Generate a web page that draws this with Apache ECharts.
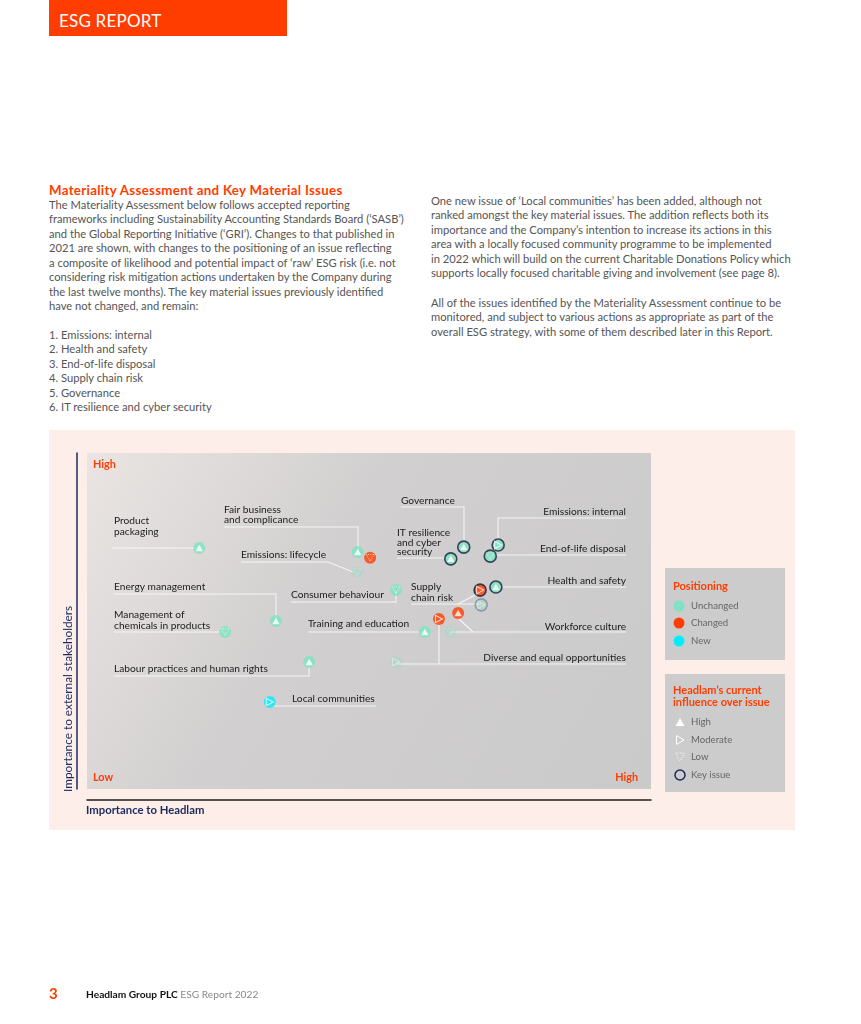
<!DOCTYPE html>
<html>
<head>
<meta charset="utf-8">
<script src="https://cdn.jsdelivr.net/npm/echarts@6/dist/echarts.min.js"></script>
<style>
  html, body { margin: 0; padding: 0; background: #fff; }
  #page { position: relative; width: 861px; height: 1024px; overflow: hidden; font-family: Lato, "Noto Sans", sans-serif; background: #fff; }
  .abs { position: absolute; white-space: nowrap; }
  #hdr { left: 49px; top: 0; width: 238px; height: 36px; background: #FF3D00; }
  #hdrText { left: 59px; top: 10px; font-size: 17px; line-height: 22px; color: #fff; letter-spacing: 0.2px; }
  #title { left: 49px; top: 182px; font-size: 13.3px; line-height: 16px; font-weight: bold; color: #FF3D00; letter-spacing: 0.3px; }
  #leftText { left: 49px; top: 197.8px; font-size: 11.2px; line-height: 14.45px; color: #555; }
  #rightText { left: 431px; top: 193.7px; font-size: 11.2px; line-height: 14.55px; color: #555; }
  #panel { left: 49px; top: 430px; width: 746px; height: 400px; background: #FDEEEA; }
  #chart { left: 0; top: 0; width: 861px; height: 1024px; }
  #foot3 { left: 49px; top: 983px; font-size: 15px; line-height: 20px; font-weight: bold; color: #FF3D00; }
  #footText { left: 86px; top: 986.5px; font-size: 10.2px; line-height: 14px; color: #111; }
  #footText span { color: #8a8a8a; font-weight: normal; }
</style>
</head>
<body>
<div id="page">
  <div id="hdr" class="abs"></div>
  <div id="hdrText" class="abs">ESG REPORT</div>
  <div id="title" class="abs">Materiality Assessment and Key Material Issues</div>
  <div id="leftText" class="abs">The Materiality Assessment below follows accepted reporting<br>frameworks including Sustainability Accounting Standards Board (‘SASB’)<br>and the Global Reporting Initiative (‘GRI’). Changes to that published in<br>2021 are shown, with changes to the positioning of an issue reflecting<br>a composite of likelihood and potential impact of ‘raw’ ESG risk (i.e. not<br>considering risk mitigation actions undertaken by the Company during<br>the last twelve months). The key material issues previously identified<br>have not changed, and remain:<br><br>1. Emissions: internal<br>2. Health and safety<br>3. End-of-life disposal<br>4. Supply chain risk<br>5. Governance<br>6. IT resilience and cyber security</div>
  <div id="rightText" class="abs">One new issue of ‘Local communities’ has been added, although not<br>ranked amongst the key material issues. The addition reflects both its<br>importance and the Company’s intention to increase its actions in this<br>area with a locally focused community programme to be implemented<br>in 2022 which will build on the current Charitable Donations Policy which<br>supports locally focused charitable giving and involvement (see page 8).<br><br>All of the issues identified by the Materiality Assessment continue to be<br>monitored, and subject to various actions as appropriate as part of the<br>overall ESG strategy, with some of them described later in this Report.</div>
  <div id="panel" class="abs"></div>
  <div id="chart" class="abs"></div>
  <div id="foot3" class="abs">3</div>
  <div id="footText" class="abs"><b>Headlam Group PLC</b> <span>ESG Report 2022</span></div>
</div>
<script>
// ---------- DATA ----------
const issues = ["Product packaging", "Fair business and complicance", "Emissions: lifecycle", "Energy management",
  "Management of chemicals in products", "Labour practices and human rights", "Local communities", "Consumer behaviour",
  "Training and education", "Diverse and equal opportunities", "Workforce culture", "Supply chain risk",
  "Health and safety", "IT resilience and cyber security", "Governance", "Emissions: internal", "End-of-life disposal"];
// Importance to Headlam (x, 0-100)
const importanceToHeadlam = [19.9, 48.0, 50.2, 33.5, 24.5, 39.4, 32.4, 54.8, 59.9, 62.4, 65.8, 69.7, 72.5, 64.5, 66.8, 72.9, 71.5];
// Importance to external stakeholders (y, 0-100)
const importanceToStakeholders = [71.7, 70.5, 68.8, 50.0, 46.7, 37.8, 25.9, 59.2, 46.7, 50.6, 52.4, 59.2, 60.1, 68.5, 72.0, 72.6, 69.3];
const positioning = ["Unchanged", "Unchanged", "Changed", "Unchanged", "Unchanged", "Unchanged", "New", "Unchanged",
  "Unchanged", "Changed", "Changed", "Changed", "Unchanged", "Unchanged", "Unchanged", "Unchanged", "Unchanged"];
const influence = ["High", "High", "Low", "High", "Low", "High", "Moderate", "Low", "High", "Moderate", "High", "Moderate",
  "High", "High", "High", "Moderate", "Low"];
const keyIssue = [false, false, false, false, false, false, false, false, false, false, false, true, true, true, true, true, true];

// Previous (2021) positions of issues whose positioning changed
const previousIssues = ["Emissions: lifecycle", "Diverse and equal opportunities", "Workforce culture", "Supply chain risk"];
const previousHeadlam = [47.9, 54.8, 64.4, 69.9];
const previousStakeholders = [64.6, 37.8, 46.7, 54.8];
const previousInfluence = ["Low", "Moderate", "Low", "Moderate"];
const previousKey = [false, false, false, true];

// ---------- LAYOUT (label anchors & leader lines, in axis units) ----------
const annotations = [
  { text: "Product\npackaging", tx: 4.79, ty: 81.4, align: "left", lh: 11, paths: [[[4.43, 71.73], [19.86, 71.73]]] },
  { text: "Fair business\nand complicance", tx: 24.29, ty: 84.5, align: "left", lh: 10, paths: [[[24.29, 77.98], [48.05, 77.98], [48.05, 70.54]]] },
  { text: "Emissions: lifecycle", tx: 27.3, ty: 71.13, align: "left", lh: 10, paths: [[[27.3, 67.56], [42.73, 67.56], [47.16, 64.58]]] },
  { text: "Energy management", tx: 4.79, ty: 61.61, align: "left", lh: 10, paths: [[[4.79, 58.04], [33.51, 58.04], [33.51, 50.0]]] },
  { text: "Management of\nchemicals in products", tx: 4.79, ty: 53.42, align: "left", lh: 11, paths: [[[4.79, 46.73], [24.47, 46.73]]] },
  { text: "Labour practices and human rights", tx: 4.79, ty: 37.2, align: "left", lh: 10, paths: [[[4.79, 33.63], [39.36, 33.63], [39.36, 37.8]]] },
  { text: "Local communities", tx: 36.35, ty: 28.27, align: "left", lh: 10, paths: [[[32.45, 24.7], [51.24, 24.7]]] },
  { text: "Consumer behaviour", tx: 36.17, ty: 59.23, align: "left", lh: 10, paths: [[[36.17, 55.65], [54.79, 55.65], [54.79, 59.23]]] },
  { text: "Training and education", tx: 39.18, ty: 50.6, align: "left", lh: 10, paths: [[[39.18, 46.73], [59.93, 46.73]]] },
  { text: "Diverse and equal opportunities", tx: 95.57, ty: 40.48, align: "right", lh: 10, paths: [[[54.79, 37.2], [95.57, 37.2]], [[62.41, 37.2], [62.41, 50.6]]] },
  { text: "Workforce culture", tx: 95.57, ty: 49.7, align: "right", lh: 10, paths: [[[64.36, 46.73], [95.57, 46.73]], [[68.44, 46.73], [65.78, 50.89]]] },
  { text: "Supply\nchain risk", tx: 57.45, ty: 61.76, align: "left", lh: 11, paths: [[[57.45, 55.06], [69.86, 55.06]], [[65.78, 55.06], [69.15, 58.04]]] },
  { text: "Health and safety", tx: 95.57, ty: 63.39, align: "right", lh: 10, paths: [[[72.52, 60.12], [95.57, 60.12]]] },
  { text: "IT resilience\nand cyber\nsecurity", tx: 54.96, ty: 77.68, align: "left", lh: 9.5, paths: [[[54.96, 68.75], [64.54, 68.75]]] },
  { text: "Governance", tx: 55.67, ty: 87.2, align: "left", lh: 10, paths: [[[55.67, 83.93], [66.84, 83.93], [66.84, 72.02]]] },
  { text: "Emissions: internal", tx: 95.57, ty: 83.93, align: "right", lh: 10, paths: [[[72.87, 72.62], [72.87, 80.65], [95.57, 80.65]]] },
  { text: "End-of-life disposal", tx: 95.57, ty: 72.92, align: "right", lh: 10, paths: [[[71.45, 69.64], [95.57, 69.64]]] }
];

// ---------- STYLE ----------
const ORANGE = "#FF3D00";
const NAVY = "#1B2A5C";
const POS_COLORS = { Unchanged: "#7DE3C2", Changed: "#FF3D00", New: "#00EEFF" };
const KEY_BORDER = "#141E3A";
const FONT = "Lato, 'Noto Sans', sans-serif";

const influenceStyle = {
  High: { symbol: "triangle", symbolSize: [7.5, 6.5], symbolRotate: 0, itemStyle: { color: "#fff" } },
  Moderate: { symbol: "triangle", symbolSize: [7.5, 7], symbolRotate: -90, itemStyle: { color: "rgba(0,0,0,0)", borderColor: "#fff", borderWidth: 1 } },
  Low: { symbol: "triangle", symbolSize: [7.5, 6.5], symbolRotate: 180, itemStyle: { color: "rgba(0,0,0,0)", borderColor: "rgba(255,255,255,0.85)", borderWidth: 1, borderType: [1, 1.3] } }
};

const chart = echarts.init(document.getElementById("chart"), null, { renderer: "canvas" });

const circleData = issues.map((n, i) => ({
  name: n,
  value: [importanceToHeadlam[i], importanceToStakeholders[i]],
  itemStyle: {
    color: POS_COLORS[positioning[i]],
    borderColor: keyIssue[i] ? KEY_BORDER : "rgba(0,0,0,0)",
    borderWidth: keyIssue[i] ? 1.6 : 0
  }
}));
const prevCircleData = previousIssues.map((n, i) => ({
  name: n + " (2021)",
  value: [previousHeadlam[i], previousStakeholders[i]],
  itemStyle: {
    color: "rgba(125,227,194,0.32)",
    borderColor: previousKey[i] ? "rgba(40,60,110,0.45)" : "rgba(0,0,0,0)",
    borderWidth: previousKey[i] ? 1.6 : 0
  }
}));

const symbolSeries = [];
["High", "Moderate", "Low"].forEach(level => {
  const st = influenceStyle[level];
  symbolSeries.push(Object.assign({
    type: "scatter", name: "Influence " + level, z: 6, silent: true,
    data: issues.map((n, i) => influence[i] === level ? [importanceToHeadlam[i], importanceToStakeholders[i]] : null).filter(d => d)
  }, JSON.parse(JSON.stringify(st))));
  const stPrev = JSON.parse(JSON.stringify(st));
  stPrev.itemStyle.opacity = 0.45;
  symbolSeries.push(Object.assign({
    type: "scatter", name: "Previous influence " + level, z: 4, silent: true,
    data: previousIssues.map((n, i) => previousInfluence[i] === level ? [previousHeadlam[i], previousStakeholders[i]] : null).filter(d => d)
  }, stPrev));
});

const legendGraphics = [
  { type: "rect", shape: { x: 665, y: 568, width: 120, height: 92 }, style: { fill: "#CDCCCC" } },
  { type: "text", x: 673, y: 586, style: { text: "Positioning", font: "bold 11px " + FONT, fill: ORANGE, verticalAlign: "middle" } },
  { type: "circle", shape: { cx: 679, cy: 606, r: 5.5 }, style: { fill: POS_COLORS.Unchanged } },
  { type: "text", x: 691, y: 606, style: { text: "Unchanged", font: "9.6px " + FONT, fill: "#666", verticalAlign: "middle" } },
  { type: "circle", shape: { cx: 679, cy: 623, r: 5.5 }, style: { fill: POS_COLORS.Changed } },
  { type: "text", x: 691, y: 623, style: { text: "Changed", font: "9.6px " + FONT, fill: "#666", verticalAlign: "middle" } },
  { type: "circle", shape: { cx: 679, cy: 641, r: 5.5 }, style: { fill: POS_COLORS.New } },
  { type: "text", x: 691, y: 641, style: { text: "New", font: "9.6px " + FONT, fill: "#666", verticalAlign: "middle" } },

  { type: "rect", shape: { x: 665, y: 674, width: 120, height: 118 }, style: { fill: "#CDCCCC" } },
  { type: "text", x: 673, y: 690, style: { text: "Headlam’s current", font: "bold 11px " + FONT, fill: ORANGE, verticalAlign: "middle" } },
  { type: "text", x: 673, y: 702, style: { text: "influence over issue", font: "bold 11px " + FONT, fill: ORANGE, verticalAlign: "middle" } },
  { type: "polygon", shape: { points: [[675.5, 726], [684.5, 726], [680, 718]] }, style: { fill: "#fff" } },
  { type: "text", x: 691, y: 722, style: { text: "High", font: "9.6px " + FONT, fill: "#666", verticalAlign: "middle" } },
  { type: "polygon", shape: { points: [[676.5, 735.5], [676.5, 744.5], [684, 740]] }, style: { fill: "none", stroke: "#fff", lineWidth: 1 } },
  { type: "text", x: 691, y: 740, style: { text: "Moderate", font: "9.6px " + FONT, fill: "#666", verticalAlign: "middle" } },
  { type: "polygon", shape: { points: [[675.5, 753], [684.5, 753], [680, 761]] }, style: { fill: "none", stroke: "rgba(255,255,255,0.9)", lineWidth: 1, lineDash: [1, 1.3] } },
  { type: "text", x: 691, y: 757, style: { text: "Low", font: "9.6px " + FONT, fill: "#666", verticalAlign: "middle" } },
  { type: "circle", shape: { cx: 680, cy: 775, r: 5 }, style: { fill: "none", stroke: NAVY, lineWidth: 1.5 } },
  { type: "text", x: 691, y: 775, style: { text: "Key issue", font: "9.6px " + FONT, fill: "#666", verticalAlign: "middle" } },

  // corner scale words
  { type: "text", x: 93, y: 465, style: { text: "High", font: "bold 10.8px " + FONT, fill: ORANGE, verticalAlign: "middle" } },
  { type: "text", x: 93, y: 778, style: { text: "Low", font: "bold 10.8px " + FONT, fill: ORANGE, verticalAlign: "middle" } },
  { type: "text", x: 638, y: 778, style: { text: "High", font: "bold 10.8px " + FONT, fill: ORANGE, verticalAlign: "middle", align: "right" } },
  // axis titles
  { type: "text", x: 86, y: 810, style: { text: "Importance to Headlam", font: "bold 11.3px " + FONT, fill: NAVY, verticalAlign: "middle" } },
  { type: "text", x: 68, y: 792, rotation: Math.PI / 2, style: { text: "Importance to external stakeholders", font: "11.8px " + FONT, fill: NAVY, verticalAlign: "middle", align: "left" } }
];

chart.setOption({
  animation: false,
  backgroundColor: "transparent",
  grid: {
    left: 87, top: 453, width: 564, height: 336, show: true, borderWidth: 0,
    backgroundColor: { type: "linear", x: 0, y: 0, x2: 1, y2: 1,
      colorStops: [{ offset: 0, color: "#EAE5E3" }, { offset: 0.4, color: "#D1CFCF" }, { offset: 1, color: "#CBCACA" }] }
  },
  xAxis: {
    type: "value", min: 0, max: 100, offset: 11,
    axisLine: { show: true, onZero: false, lineStyle: { color: "#1d1d1d", width: 1.5 } },
    axisTick: { show: false }, axisLabel: { show: false }, splitLine: { show: false }
  },
  yAxis: {
    type: "value", min: 0, max: 100, offset: 10,
    axisLine: { show: true, onZero: false, lineStyle: { color: NAVY, width: 1.5 } },
    axisTick: { show: false }, axisLabel: { show: false }, splitLine: { show: false }
  },
  graphic: legendGraphics,
  series: [
    {
      type: "custom", name: "Labels", z: 2, silent: true,
      data: annotations.map(a => [a.tx, a.ty]),
      encode: { x: 0, y: 1 },
      renderItem: function (params, api) {
        const a = annotations[params.dataIndex];
        const children = a.paths.map(p => ({
          type: "polyline",
          shape: { points: p.map(pt => api.coord(pt)) },
          style: { stroke: "#F5F5F5", lineWidth: 1.1, fill: null }
        }));
        const t = api.coord([a.tx, a.ty]);
        children.push({
          type: "text", x: t[0], y: t[1],
          style: { text: a.text, fill: "#1c1c1c", font: "10.2px " + FONT, align: a.align, verticalAlign: "top", lineHeight: a.lh }
        });
        return { type: "group", children: children };
      }
    },
    { type: "scatter", name: "Previous position", z: 3, symbol: "circle", symbolSize: 12, data: prevCircleData, silent: true },
    { type: "scatter", name: "Positioning", z: 5, symbol: "circle", symbolSize: 12, data: circleData, silent: true }
  ].concat(symbolSeries)
});
</script>
</body>
</html>
